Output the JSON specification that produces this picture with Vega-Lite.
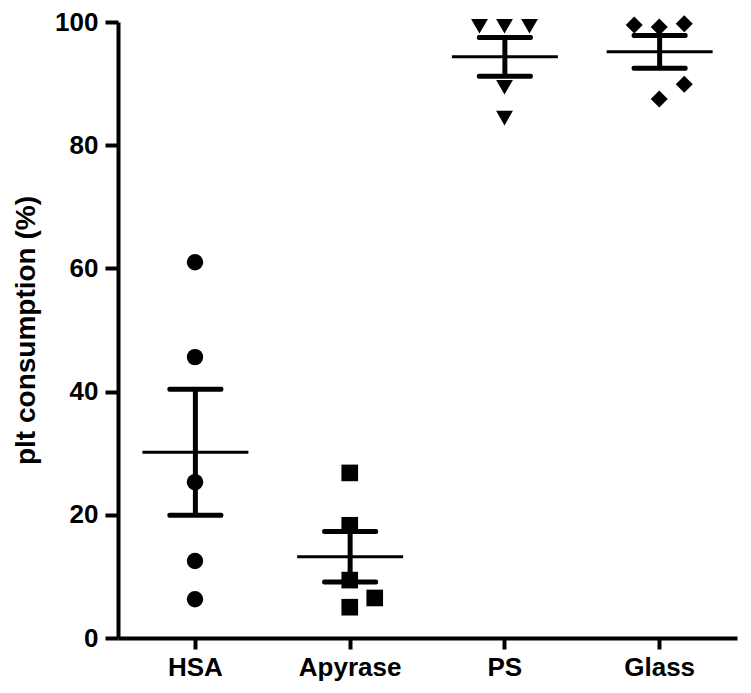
{
  "$schema": "https://vega.github.io/schema/vega-lite/v6.json",
  "width": 619,
  "height": 616,
  "autosize": {"type": "none"},
  "padding": {"left": 118, "top": 22, "right": 14, "bottom": 55},
  "background": "white",
  "config": {
    "view": {"stroke": null},
    "font": "Liberation Sans",
    "axis": {
      "grid": false,
      "domainColor": "black",
      "domainWidth": 4,
      "tickColor": "black",
      "tickWidth": 4,
      "labelColor": "black",
      "labelFont": "Liberation Sans",
      "labelFontWeight": "bold",
      "labelFontSize": 26,
      "titleFont": "Liberation Sans",
      "titleFontWeight": "bold",
      "titleColor": "black"
    }
  },
  "data": {
    "values": [
      {"group": "HSA", "value": 61.0, "slot": "C"},
      {"group": "HSA", "value": 45.6, "slot": "C"},
      {"group": "HSA", "value": 25.3, "slot": "C"},
      {"group": "HSA", "value": 12.5, "slot": "C"},
      {"group": "HSA", "value": 6.3, "slot": "C"},
      {"group": "Apyrase", "value": 26.8, "slot": "C"},
      {"group": "Apyrase", "value": 18.3, "slot": "C"},
      {"group": "Apyrase", "value": 9.4, "slot": "C"},
      {"group": "Apyrase", "value": 6.5, "slot": "R"},
      {"group": "Apyrase", "value": 5.0, "slot": "C"},
      {"group": "PS", "value": 99.3, "slot": "L"},
      {"group": "PS", "value": 99.3, "slot": "C"},
      {"group": "PS", "value": 99.3, "slot": "R"},
      {"group": "PS", "value": 89.4, "slot": "C"},
      {"group": "PS", "value": 84.4, "slot": "C"},
      {"group": "Glass", "value": 99.5, "slot": "L"},
      {"group": "Glass", "value": 99.2, "slot": "C"},
      {"group": "Glass", "value": 99.7, "slot": "R"},
      {"group": "Glass", "value": 89.9, "slot": "R"},
      {"group": "Glass", "value": 87.5, "slot": "C"}
    ]
  },
  "encoding": {
    "x": {
      "field": "group",
      "type": "nominal",
      "sort": ["HSA", "Apyrase", "PS", "Glass"],
      "scale": {"type": "band", "paddingInner": 0, "paddingOuter": 0},
      "axis": {"title": null, "labelAngle": 0, "tickSize": 11, "labelPadding": 5}
    }
  },
  "layer": [
    {
      "mark": {"type": "point", "filled": true, "color": "black", "opacity": 1},
      "encoding": {
        "y": {
          "field": "value",
          "type": "quantitative",
          "scale": {"domain": [0, 100], "nice": false, "zero": true},
          "axis": {
            "title": "plt consumption (%)",
            "titleFontSize": 28,
            "titlePadding": 14,
            "values": [0, 20, 40, 60, 80, 100],
            "tickSize": 13,
            "labelPadding": 7
          }
        },
        "xOffset": {
          "field": "slot",
          "type": "nominal",
          "scale": {"type": "point", "domain": ["L", "C", "R"], "range": [52, 102], "padding": 0}
        },
        "shape": {
          "field": "group",
          "type": "nominal",
          "scale": {
            "domain": ["HSA", "Apyrase", "PS", "Glass"],
            "range": ["circle", "square", "triangle-down", "diamond"]
          },
          "legend": null
        },
        "size": {
          "field": "group",
          "type": "nominal",
          "scale": {
            "domain": ["HSA", "Apyrase", "PS", "Glass"],
            "range": [270, 290, 400, 560]
          },
          "legend": null
        }
      }
    },
    {
      "transform": [
        {"aggregate": [
          {"op": "mean", "field": "value", "as": "mean"},
          {"op": "stderr", "field": "value", "as": "sem"}
        ], "groupby": ["group"]},
        {"calculate": "datum.mean - datum.sem", "as": "lo"},
        {"calculate": "datum.mean + datum.sem", "as": "hi"}
      ],
      "layer": [
        {
          "mark": {"type": "rule", "color": "black", "strokeWidth": 5},
          "encoding": {
            "y": {"field": "lo", "type": "quantitative"},
            "y2": {"field": "hi"}
          }
        },
        {
          "mark": {"type": "tick", "color": "black", "size": 56, "thickness": 5, "opacity": 1, "cornerRadius": 2},
          "encoding": {"y": {"field": "lo", "type": "quantitative"}}
        },
        {
          "mark": {"type": "tick", "color": "black", "size": 56, "thickness": 5, "opacity": 1, "cornerRadius": 2},
          "encoding": {"y": {"field": "hi", "type": "quantitative"}}
        },
        {
          "mark": {"type": "tick", "color": "black", "size": 106, "thickness": 3, "opacity": 1},
          "encoding": {"y": {"field": "mean", "type": "quantitative"}}
        }
      ]
    }
  ]
}
